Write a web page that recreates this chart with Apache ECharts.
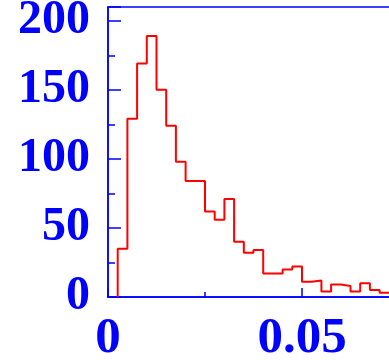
<!DOCTYPE html>
<html>
<head>
<meta charset="utf-8">
<script src="https://cdn.jsdelivr.net/npm/echarts@6/dist/echarts.min.js"></script>
<style>
  html, body { margin: 0; padding: 0; background: #ffffff; }
  #chart { width: 389px; height: 360px; }
</style>
</head>
<body>
<div id="chart"></div>
<script>
// Histogram bins: width 0.0025, left edges start at 0
const binWidth = 0.0025;
const binCounts = [0, 35, 129, 169, 189, 150, 124, 98, 84, 84, 62, 56, 71, 40, 32, 34,
                   17, 17, 20, 22, 11, 12, 4, 9, 8, 4, 10, 5, 3];
const xTicks = [0, 0.05];
const yTicks = [0, 50, 100, 150, 200];

// Step outline points: start at the first non-empty bin edge on the baseline
const stepPoints = [];
let first = binCounts.findIndex(c => c > 0);
stepPoints.push([first * binWidth, 0]);
for (let i = first; i < binCounts.length; i++) {
  stepPoints.push([+(i * binWidth).toFixed(6), binCounts[i]]);
}
stepPoints.push([+(binCounts.length * binWidth).toFixed(6), binCounts[binCounts.length - 1]]);

const blue = '#0000ff';
const labelFont = { fontFamily: 'Liberation Serif', fontWeight: 'bold', color: blue };

const chart = echarts.init(document.getElementById('chart'), null, { renderer: 'canvas' });
chart.setOption({
  animation: false,
  backgroundColor: '#ffffff',
  grid: {
    left: 108, top: 7, bottom: 63, width: 388,
    outerBoundsMode: 'none', containLabel: false,
    show: true, borderColor: blue, borderWidth: 1.5, backgroundColor: 'transparent'
  },
  xAxis: {
    type: 'value', min: 0, max: 0.1, interval: 0.05,
    axisLine: { lineStyle: { color: blue, width: 1.5 } },
    axisTick: { inside: true, length: 9, lineStyle: { color: blue, width: 1.5 } },
    minorTick: { show: true, splitNumber: 2, length: 5, lineStyle: { color: blue, width: 1.5 } },
    splitLine: { show: false },
    axisLabel: Object.assign({}, labelFont, {
      fontSize: 51, margin: 16, showMaxLabel: false,
      formatter: v => xTicks.some(t => Math.abs(t - v) < 1e-9) ? String(v) : ''
    })
  },
  yAxis: {
    type: 'value', min: 0, max: 210, interval: 50,
    axisLine: { show: true, lineStyle: { color: blue, width: 1.5 } },
    axisTick: { show: true, inside: true, length: 13, lineStyle: { color: blue, width: 1.5 } },
    minorTick: { show: true, splitNumber: 2, length: 7, lineStyle: { color: blue, width: 1.5 } },
    splitLine: { show: false },
    axisLabel: Object.assign({}, labelFont, {
      fontSize: 48, margin: 18,
      formatter: v => yTicks.includes(v) ? String(v) : ''
    })
  },
  series: [{
    type: 'line',
    step: 'end',
    data: stepPoints,
    symbol: 'none',
    lineStyle: { color: '#ff0000', width: 2 },
    clip: true
  }]
});
</script>
</body>
</html>
